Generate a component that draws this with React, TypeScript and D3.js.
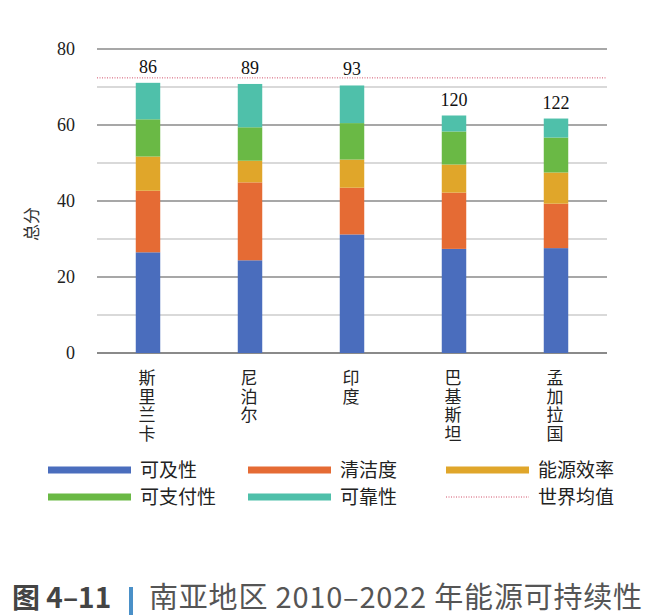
import React from 'react';
import * as d3 from 'd3';

const COUNTRIES = ['斯里兰卡', '尼泊尔', '印度', '巴基斯坦', '孟加拉国'];
const RANKS = [86, 89, 93, 120, 122];
const SERIES = ['可及性', '清洁度', '能源效率', '可支付性', '可靠性'];
const ACCESS = [26.5, 24.4, 31.2, 27.4, 27.6];
const CLEAN = [16.2, 20.5, 12.3, 14.8, 11.7];
const EFFICIENCY = [9.0, 5.7, 7.4, 7.4, 8.2];
const AFFORD = [9.8, 8.8, 9.6, 8.7, 9.2];
const RELIABLE = [9.6, 11.4, 9.9, 4.2, 5.0];
const WORLD_AVG = 72.4;
const Y_TICKS = [0, 20, 40, 60, 80];
const MINOR_TICKS = [10, 30, 50, 70];

const COLORS = ['#4a6dbd', '#e56b34', '#e0a62a', '#6ab945', '#4fc0aa'];
const AVG_COLOR = '#d2506a';
const SERIF = '"Liberation Serif", "Times New Roman", serif';
const CJK = '"Noto Sans CJK SC", sans-serif';

export default function App() {
  const width = 647;
  const height = 615;
  const left = 97;
  const right = 607;

  const x = d3.scaleBand<string>().domain(COUNTRIES).range([left, right]).paddingInner(0.76).paddingOuter(0.38);
  const y = d3.scaleLinear().domain([0, 80]).range([353, 49]);

  const rows = COUNTRIES.map((c, i) => ({
    country: c,
    [SERIES[0]]: ACCESS[i],
    [SERIES[1]]: CLEAN[i],
    [SERIES[2]]: EFFICIENCY[i],
    [SERIES[3]]: AFFORD[i],
    [SERIES[4]]: RELIABLE[i],
  }));
  const stacked = d3.stack<any>().keys(SERIES)(rows);

  const legendCols = [48, 248, 446];
  const legendRows = [470, 497];
  const legendItems = [...SERIES.map((s, i) => ({ name: s, color: COLORS[i], dotted: false })), { name: '世界均值', color: AVG_COLOR, dotted: true }];

  return (
    <svg width={width} height={height} style={{ position: 'absolute', left: 0, top: 0, background: '#fff' }}>
      {/* gridlines */}
      {MINOR_TICKS.map((t) => (
        <line key={'m' + t} x1={left} x2={right} y1={y(t)} y2={y(t)} stroke="#b4b4b4" strokeWidth={1.2} />
      ))}
      {Y_TICKS.map((t) => (
        <line key={'g' + t} x1={left} x2={right} y1={y(t)} y2={y(t)} stroke="#8a8a8a" strokeWidth={t === 0 ? 2.2 : 1.6} />
      ))}
      {Y_TICKS.map((t) => (
        <text key={'t' + t} x={75} y={y(t) + 6} textAnchor="end" fontFamily={SERIF} fontSize={18} fill="#222">
          {t}
        </text>
      ))}
      <text transform={`translate(38,224) rotate(-90)`} textAnchor="middle" fontFamily={CJK} fontSize={17} fill="#333">
        总分
      </text>

      {/* bars */}
      {stacked.map((layer, li) => (
        <g key={layer.key} fill={COLORS[li]}>
          {layer.map((d, i) => (
            <rect key={i} x={x(COUNTRIES[i])} width={x.bandwidth()} y={y(d[1])} height={y(d[0]) - y(d[1])} />
          ))}
        </g>
      ))}

      {/* world average */}
      <line x1={left} x2={right} y1={y(WORLD_AVG)} y2={y(WORLD_AVG)} stroke={AVG_COLOR} strokeWidth={1} strokeDasharray="1,1.5" />

      {/* rank labels */}
      {COUNTRIES.map((c, i) => {
        const top = stacked[stacked.length - 1][i][1];
        return (
          <text key={c} x={(x(c) ?? 0) + x.bandwidth() / 2} y={y(top) - 10} textAnchor="middle" fontFamily={SERIF} fontSize={18} fill="#111">
            {RANKS[i]}
          </text>
        );
      })}

      {/* category labels, one character per line */}
      {COUNTRIES.map((c) =>
        c.split('').map((ch, k) => (
          <text
            key={c + k}
            x={(x(c) ?? 0) + x.bandwidth() / 2 - 1}
            y={384 + k * 18.5}
            textAnchor="middle"
            fontFamily={CJK}
            fontSize={17}
            fill="#222"
          >
            {ch}
          </text>
        )),
      )}

      {/* legend */}
      {legendItems.map((it, i) => {
        const lx = legendCols[i % 3];
        const ly = legendRows[Math.floor(i / 3)];
        return (
          <g key={it.name}>
            {it.dotted ? (
              <line x1={lx} x2={lx + 83} y1={ly} y2={ly} stroke={it.color} strokeWidth={1} strokeDasharray="1,1.5" />
            ) : (
              <rect x={lx} y={ly - 3.5} width={83} height={7} fill={it.color} />
            )}
            <text x={lx + 92} y={ly + 7} fontFamily={CJK} fontSize={19} fill="#222">
              {it.name}
            </text>
          </g>
        );
      })}

      {/* caption */}
      <text x={12} y={608} fontFamily={CJK} fontSize={28} fontWeight="bold" fill="#444">
        图 4–11
      </text>
      <rect x={129} y={587} width={4} height={28} fill="#4a90c8" />
      <text x={149} y={608} fontFamily={CJK} fontSize={29} letterSpacing={0.8} fill="#555">
        南亚地区 2010–2022 年能源可持续性
      </text>
    </svg>
  );
}
